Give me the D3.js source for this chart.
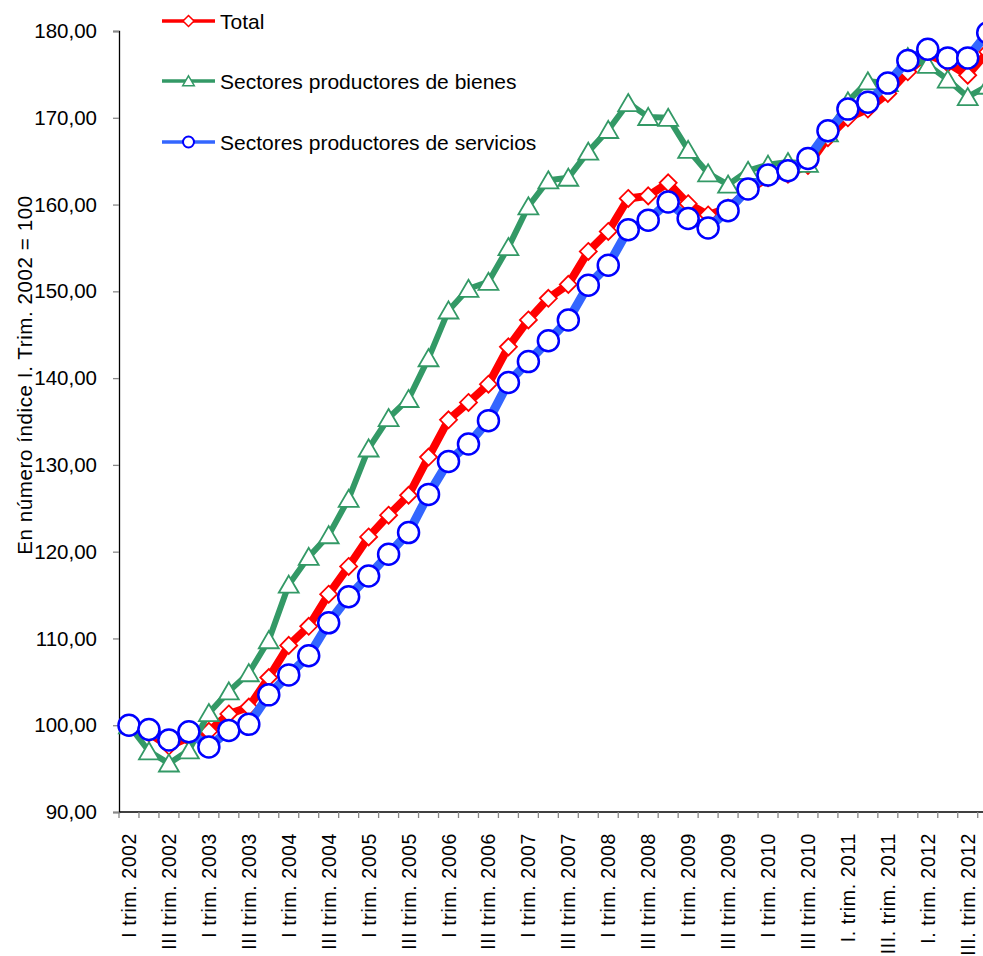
<!DOCTYPE html>
<html>
<head>
<meta charset="utf-8">
<script src="https://cdn.jsdelivr.net/npm/d3@7"></script>
<style>
  html, body { margin: 0; padding: 0; background: #fff; overflow: hidden; }
  text { font-family: "Liberation Sans", Arial, sans-serif; fill: #000; }
</style>
</head>
<body>
<svg id="chart" width="983" height="956"></svg>
<script>
const categories = [
  "I trim. 2002","II trim. 2002","III trim. 2002","IV trim. 2002",
  "I trim. 2003","II trim. 2003","III trim. 2003","IV trim. 2003",
  "I trim. 2004","II trim. 2004","III trim. 2004","IV trim. 2004",
  "I trim. 2005","II trim. 2005","III trim. 2005","IV trim. 2005",
  "I trim. 2006","II trim. 2006","III trim. 2006","IV trim. 2006",
  "I trim. 2007","II trim. 2007","III trim. 2007","IV trim. 2007",
  "I trim. 2008","II trim. 2008","III trim. 2008","IV trim. 2008",
  "I trim. 2009","II trim. 2009","III trim. 2009","IV trim. 2009",
  "I trim. 2010","II trim. 2010","III trim. 2010","IV trim. 2010",
  "I. trim. 2011","II. trim. 2011","III. trim. 2011","IV. trim. 2011",
  "I. trim. 2012","II. trim. 2012","III. trim. 2012","IV. trim. 2012"
];

const total = [
  100.0, 99.1, 97.6, 98.6, 99.3, 101.3, 102.1, 105.5, 109.2, 111.4,
  115.1, 118.3, 121.7, 124.2, 126.5, 130.9, 135.2, 137.2, 139.3, 143.6,
  146.7, 149.2, 150.8, 154.6, 156.9, 160.7, 161.0, 162.5, 160.1, 158.8,
  159.6, 161.6, 163.1, 163.5, 164.5, 167.7, 170.0, 171.0, 172.8, 175.3,
  177.3, 176.3, 174.9, 177.6
];

const bienes = [
  100.0, 97.0, 95.6, 97.1, 101.4, 103.9, 106.0, 109.8, 116.2, 119.4,
  121.9, 126.1, 131.9, 135.4, 137.6, 142.3, 147.8, 150.3, 151.1, 155.1,
  159.8, 162.8, 163.1, 166.1, 168.6, 171.7, 170.1, 170.0, 166.3, 163.6,
  162.3, 163.9, 164.6, 164.9, 164.7, 168.2, 171.9, 174.2, 174.0, 177.0,
  176.1, 174.4, 172.4, 173.7
];

const servicios = [
  100.0, 99.5, 98.3, 99.25, 97.5, 99.4, 100.1, 103.5, 105.8, 108.0,
  111.8, 114.8, 117.2, 119.7, 122.2, 126.6, 130.4, 132.4, 135.1, 139.5,
  141.9, 144.3, 146.7, 150.7, 153.0, 157.1, 158.2, 160.3, 158.4, 157.3,
  159.3, 161.8, 163.4, 163.9, 165.3, 168.5, 171.0, 171.8, 174.0, 176.6,
  177.9, 176.9, 176.9, 179.8
];

const yTicks = [90, 100, 110, 120, 130, 140, 150, 160, 170, 180];

const seriesNames = ["Total", "Sectores productores de bienes", "Sectores productores de servicios"];

const yTitle = "En número índice I. Trim. 2002 = 100";

// ---------- drawing ----------
const svg = d3.select("#chart");
const plotLeft = 119, plotTop = 31, plotBottom = 812;
const band = 19.97;
const plotRight = plotLeft + band * categories.length;

const x = d3.scaleBand().domain(categories).range([plotLeft, plotRight]).padding(0);
const y = d3.scaleLinear().domain([90, 180]).range([plotBottom, plotTop]);
const cx = c => x(c) + x.bandwidth() / 2;
const fmt = v => v.toFixed(2).replace(".", ",");

// Y axis
const yAxis = d3.axisLeft(y).tickValues(yTicks).tickFormat(fmt).tickSize(6).tickPadding(16);
const gy = svg.append("g").attr("transform", `translate(${plotLeft},0)`).call(yAxis);
gy.select(".domain").attr("stroke", "#000").attr("stroke-width", 1.3);
gy.selectAll(".tick line").attr("stroke", "#888").attr("stroke-width", 1.3);
gy.selectAll(".tick text").attr("font-size", 20.5)
  .style("font-family", "'Liberation Sans', Arial, sans-serif");

// X axis
const tickCats = categories.filter((c, i) => i % 2 === 0);
const xAxis = d3.axisBottom(x).tickValues([]).tickSize(0);
const gx = svg.append("g").attr("transform", `translate(0,${plotBottom})`).call(xAxis);
gx.select(".domain").attr("stroke", "#000").attr("stroke-width", 1.3)
  .attr("d", `M${plotLeft},0H${plotRight}`);
gx.selectAll("line.bt").data(d3.range(categories.length + 1)).enter()
  .append("line").attr("class", "bt")
  .attr("x1", i => plotLeft + i * x.bandwidth()).attr("x2", i => plotLeft + i * x.bandwidth())
  .attr("y1", 0).attr("y2", 6)
  .attr("stroke", "#888").attr("stroke-width", 1.3);
gx.selectAll("text.xl").data(tickCats).enter()
  .append("text").attr("class", "xl")
  .attr("transform", d => `translate(${cx(d)},${21}) rotate(-90)`)
  .attr("text-anchor", "end")
  .attr("dy", "0.36em")
  .attr("font-size", 19.5)
  .attr("letter-spacing", 0.6)
  .text(d => d);

// Y title
svg.append("text")
  .attr("transform", `translate(25,375) rotate(-90)`)
  .attr("text-anchor", "middle")
  .attr("dy", "0.36em")
  .attr("font-size", 20.5)
  .attr("letter-spacing", 0.6)
  .text(yTitle);

// Series
const line = d3.line().x((d, i) => cx(categories[i])).y(d => y(d));

const diamond = s => `M0,${-s}L${s},0L0,${s}L${-s},0Z`;
const triangle = s => `M0,${-s * 0.95}L${s * 1.05},${s * 0.85}L${-s * 1.05},${s * 0.85}Z`;

const series = [
  { name: seriesNames[0], data: total, line: "#ff0000", width: 8, marker: "diamond", mstroke: "#ff0000" },
  { name: seriesNames[1], data: bienes, line: "#339966", width: 6, marker: "triangle", mstroke: "#339966" },
  { name: seriesNames[2], data: servicios, line: "#3366ff", width: 9, marker: "circle", mstroke: "#0000ff" }
];

function drawMarker(g, type, size, stroke, sw) {
  if (type === "circle") {
    g.append("circle").attr("r", size).attr("fill", "#fff").attr("stroke", stroke).attr("stroke-width", sw);
  } else if (type === "diamond") {
    g.append("path").attr("d", diamond(size)).attr("fill", "#fff").attr("stroke", stroke).attr("stroke-width", sw);
  } else {
    g.append("path").attr("d", triangle(size)).attr("fill", "#fff").attr("stroke", stroke).attr("stroke-width", sw);
  }
}

series.forEach(s => {
  const g = svg.append("g");
  g.append("path").datum(s.data).attr("d", line)
    .attr("fill", "none").attr("stroke", s.line).attr("stroke-width", s.width)
    .attr("stroke-linejoin", "round");
  s.data.forEach((v, i) => {
    const m = g.append("g").attr("transform", `translate(${cx(categories[i])},${y(v)})`);
    if (s.marker === "circle") drawMarker(m, "circle", 10.5, s.mstroke, 2.5);
    else if (s.marker === "diamond") drawMarker(m, "diamond", 8.5, s.mstroke, 1.8);
    else drawMarker(m, "triangle", 9.5, s.mstroke, 1.8);
  });
});

// Legend
const legY = [21, 81, 142];
series.forEach((s, i) => {
  const g = svg.append("g").attr("transform", `translate(0,${legY[i]})`);
  g.append("line").attr("x1", 162).attr("x2", 215).attr("y1", 0).attr("y2", 0)
    .attr("stroke", s.line).attr("stroke-width", 3.5);
  const m = g.append("g").attr("transform", "translate(188.5,0)");
  if (s.marker === "circle") drawMarker(m, "circle", 5.5, s.mstroke, 2);
  else if (s.marker === "diamond") drawMarker(m, "diamond", 5.5, s.mstroke, 1.5);
  else drawMarker(m, "triangle", 5.5, s.mstroke, 1.5);
  g.append("text").attr("x", 220).attr("y", 0).attr("dy", "0.36em")
    .attr("font-size", 21).text(s.name);
});
</script>
</body>
</html>
